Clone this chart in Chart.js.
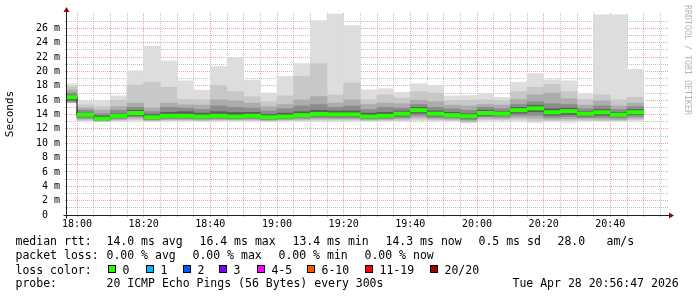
<!DOCTYPE html>
<html>
<head>
<meta charset="utf-8">
<script src="https://cdn.jsdelivr.net/npm/chart.js@4.4.1/dist/chart.umd.min.js"></script>
<style>
  body { margin: 0; background: #fff; }
  #wrap { position: relative; width: 697px; height: 297px; overflow: hidden; }
  canvas { position: absolute; left: 0; top: 0; }
  .lg { position: absolute; font: 11.5px "DejaVu Sans Mono", monospace; color: #000; line-height: 14px; white-space: pre; }
  .box { position: absolute; width: 8px; height: 8px; box-sizing: border-box; border: 1px solid #000; }
</style>
</head>
<body>
<div id="wrap">
  <canvas id="chart" width="697" height="297"></canvas>
</div>
<script>
// 5 minute steps (start time of each step)
const steps = ['17:55', '18:00', '18:05', '18:10', '18:15', '18:20', '18:25', '18:30', '18:35', '18:40',
    '18:45', '18:50', '18:55', '19:00', '19:05', '19:10', '19:15', '19:20', '19:25', '19:30',
    '19:35', '19:40', '19:45', '19:50', '19:55', '20:00', '20:05', '20:10', '20:15', '20:20',
    '20:25', '20:30', '20:35', '20:40', '20:45'];
const timeLabels = ['18:00', '18:20', '18:40', '19:00', '19:20', '19:40', '20:00', '20:20', '20:40'];

// rtt in ms, smoke bands from outside to inside
const maxRtt = [18.3, 15.9, 15.9, 16.6, 20.1, 23.5, 21.5, 18.7, 17.4, 20.7, 21.9, 18.8, 17.0, 19.3, 21.1, 27.1, 28.0, 26.4,
    17.45, 17.6, 17.1, 18.3, 18.05, 16.6, 16.65, 16.9, 16.4, 18.5, 19.7, 18.85, 18.7, 16.85, 27.9, 27.9, 20.3];
const band2Hi = [17.9, 15.35, 15.1, 16.0, 18.1, 18.5, 17.8, 16.1, 16.05, 18.05, 17.2, 16.5, 15.8, 16.6, 19.3, 21.1, 16.75, 18.4,
    16.05, 16.75, 16.3, 17.2, 17.0, 15.95, 16.0, 16.05, 15.95, 17.2, 17.8, 18.2, 17.2, 16.1, 16.75, 16.05, 16.4];
const band3Hi = [17.4, 14.9, 14.6, 15.1, 15.6, 14.9, 15.6, 15.35, 15.3, 16.05, 15.9, 15.6, 15.1, 15.4, 16.05, 16.5, 15.6, 16.05,
    15.4, 15.6, 15.5, 16.0, 15.8, 15.3, 15.2, 15.4, 15.3, 16.1, 16.75, 17.0, 16.2, 15.3, 15.9, 15.2, 15.6];
const band4Hi = [17.0, 14.6, 14.1, 14.6, 15.0, 14.4, 15.0, 14.9, 14.7, 15.2, 15.0, 14.9, 14.5, 14.8, 15.2, 15.4, 15.0, 15.2,
    14.7, 15.0, 14.9, 15.4, 15.0, 14.8, 14.6, 15.0, 14.8, 15.4, 15.8, 15.5, 15.4, 14.8, 15.2, 14.7, 15.1];
const band5Hi = [16.7, 14.2, 13.8, 14.1, 14.6, 14.0, 14.3, 14.4, 14.2, 14.4, 14.3, 14.3, 14.0, 14.2, 14.4, 14.6, 14.5, 14.5,
    14.2, 14.3, 14.5, 15.0, 14.5, 14.3, 14.1, 14.6, 14.4, 15.0, 15.3, 14.8, 14.9, 14.4, 14.7, 14.3, 14.7];
const median = [16.4, 13.95, 13.4, 13.8, 14.2, 13.6, 13.8, 13.8, 13.7, 13.8, 13.7, 13.8, 13.6, 13.7, 13.9, 14.05, 14.0, 14.0,
    13.7, 13.8, 14.1, 14.6, 14.1, 13.9, 13.75, 14.2, 14.1, 14.6, 14.85, 14.3, 14.45, 14.1, 14.3, 13.95, 14.3];
const band5Lo = [16.0, 13.7, 13.3, 13.6, 13.9, 13.4, 13.6, 13.6, 13.5, 13.6, 13.5, 13.6, 13.4, 13.5, 13.7, 13.8, 13.75, 13.75,
    13.5, 13.6, 13.8, 14.2, 13.8, 13.7, 13.5, 13.9, 13.85, 14.2, 14.4, 13.9, 14.0, 13.8, 13.9, 13.7, 14.0];
const band4Lo = [15.8, 13.5, 13.2, 13.45, 13.7, 13.3, 13.45, 13.45, 13.4, 13.45, 13.4, 13.45, 13.3, 13.4, 13.5, 13.6, 13.55, 13.55,
    13.4, 13.45, 13.6, 13.9, 13.6, 13.5, 13.3, 13.7, 13.65, 13.9, 13.9, 13.6, 13.7, 13.6, 13.6, 13.5, 13.75];
const band3Lo = [15.7, 13.35, 13.1, 13.3, 13.5, 13.2, 13.3, 13.3, 13.25, 13.3, 13.3, 13.3, 13.2, 13.3, 13.35, 13.4, 13.4, 13.4,
    13.3, 13.3, 13.4, 13.6, 13.4, 13.35, 13.1, 13.5, 13.45, 13.6, 13.5, 13.35, 13.4, 13.4, 13.35, 13.3, 13.5];
const band2Lo = [15.65, 13.2, 13.05, 13.2, 13.3, 13.1, 13.2, 13.2, 13.15, 13.2, 13.2, 13.2, 13.1, 13.2, 13.2, 13.25, 13.25, 13.25,
    13.15, 13.2, 13.2, 13.35, 13.25, 13.2, 12.95, 13.3, 13.3, 13.35, 13.1, 13.15, 13.15, 13.2, 13.15, 13.15, 13.3];
const minRtt = [15.6, 13.1, 13.0, 13.05, 13.1, 13.0, 13.1, 13.1, 13.0, 13.1, 13.05, 13.05, 13.0, 13.05, 13.05, 13.1, 13.1, 13.1,
    13.05, 13.05, 13.1, 13.15, 13.1, 13.05, 12.85, 13.1, 13.15, 13.1, 12.9, 13.0, 12.9, 13.05, 13.0, 13.0, 13.1];

// Legend texts
const legendRows = [
    [[16, 'median rtt:'], [107, '14.0 ms avg'], [200, '16.4 ms max'], [293, '13.4 ms min'], [386, '14.3 ms now'],
     [479, '0.5 ms sd'], [558, '28.0'], [607, 'am/s']],
    [[16, 'packet loss:'], [107, '0.00 % avg'], [193, '0.00 % max'], [279, '0.00 % min'], [365, '0.00 % now']],
    [[16, 'loss color:']],
    [[16, 'probe:'], [107, '20 ICMP Echo Pings (56 Bytes) every 300s'], [513, 'Tue Apr 28 20:56:47 2026']]
];
const lossLabels = ['0', '1', '2', '3', '4-5', '6-10', '11-19', '20/20'];
const lossColors = ['#26ff00', '#00b8ff', '#0059ff', '#7e00ff', '#ff00ff', '#ff5500', '#ff0000', '#a10000'];
const lossX = [108, 146, 183, 219, 257, 307, 365, 430];

// minutes after 18:00, centre of the step
function stepCentre(s) {
    const [h, m] = s.split(':').map(Number);
    return (h - 18) * 60 + m + 2.5;
}

function band(lo, hi, color) {
    return {
        type: 'bar',
        data: steps.map((s, i) => ({ x: stepCentre(s), y: [lo[i], hi[i]] })),
        backgroundColor: color,
        borderWidth: 0,
        grouped: false,
        barPercentage: 1,
        categoryPercentage: 1,
        clip: 0
    };
}

const majorGrid = 'rgba(225, 70, 70, 0.5)';
const minorGrid = 'rgba(130, 130, 130, 0.5)';

// Axis arrows, watermark
const rrdDecor = {
    id: 'rrdDecor',
    afterDraw(chart) {
        const ctx = chart.ctx;
        const a = chart.chartArea;
        const ax = Math.round(a.left) - 0.5;
        const ay = Math.round(a.bottom) + 0.5;
        ctx.save();
        ctx.strokeStyle = '#1f1f1f';
        ctx.lineWidth = 1;
        ctx.beginPath();
        ctx.moveTo(ax - 3, ay);
        ctx.lineTo(a.right + 2, ay);
        ctx.moveTo(ax, ay + 3);
        ctx.lineTo(ax, a.top - 2);
        ctx.stroke();
        ctx.fillStyle = '#7f1010';
        ctx.beginPath();
        ctx.moveTo(a.right, ay - 3);
        ctx.lineTo(a.right + 5, ay);
        ctx.lineTo(a.right, ay + 3);
        ctx.fill();
        ctx.beginPath();
        ctx.moveTo(ax - 3, a.top - 1);
        ctx.lineTo(ax, a.top - 6);
        ctx.lineTo(ax + 3, a.top - 1);
        ctx.fill();
        ctx.translate(687, 5);
        ctx.rotate(Math.PI / 2);
        ctx.font = '8.3px "DejaVu Sans Mono"';
        ctx.fillStyle = '#b4b4b4';
        ctx.textBaseline = 'middle';
        ctx.fillText('RRDTOOL / TOBI OETIKER', 0, 0);
        ctx.restore();
    }
};

new Chart(document.getElementById('chart'), {
    type: 'bar',
    data: {
        datasets: [
            {
                type: 'bar',
                data: steps.map((s, i) => ({ x: stepCentre(s), y: [median[i] - 0.22, median[i] + 0.25] })),
                backgroundColor: '#26ff00',
                borderWidth: 0,
                grouped: false,
                barPercentage: 1,
                categoryPercentage: 1,
                clip: 0
            },
            {
                type: 'line',
                data: steps.map((s, i) => ({ x: stepCentre(s), y: median[i] })),
                borderColor: '#111111',
                borderWidth: 1,
                stepped: 'middle',
                pointRadius: 0
            },
            band(band5Lo, band5Hi, '#5e5e5e'),
            band(band4Lo, band4Hi, '#8c8c8c'),
            band(band3Lo, band3Hi, '#acacac'),
            band(band2Lo, band2Hi, '#c8c8c8'),
            band(minRtt, maxRtt, '#dddddd')
        ]
    },
    options: {
        responsive: false,
        animation: false,
        layout: { padding: { left: 0, top: 13, right: 28, bottom: 0 } },
        plugins: { legend: { display: false }, tooltip: { enabled: false } },
        scales: {
            x: {
                type: 'linear',
                offset: false,
                min: -3,
                max: 177.6,
                z: 1,
                afterFit: s => { s.height = 82; },
                afterBuildTicks: s => {
                    const t = [];
                    for (let v = 0; v <= 175; v += 5) t.push({ value: v });
                    s.ticks = t;
                },
                grid: {
                    offset: false,
                    color: c => (c.tick && c.tick.value % 20 === 0) ? majorGrid : minorGrid,
                    tickLength: 2,
                    lineWidth: 1
                },
                border: { display: false, dash: [1, 1] },
                ticks: {
                    autoSkip: false,
                    maxRotation: 0,
                    padding: 1,
                    color: '#000',
                    font: { family: 'DejaVu Sans Mono', size: 10 },
                    callback: v => v % 20 === 0 ? timeLabels[v / 20] : ''
                }
            },
            y: {
                min: 0,
                max: 28.15,
                z: 1,
                afterFit: s => { s.width = 67; },
                afterBuildTicks: s => {
                    const t = [];
                    for (let v = 0; v <= 27; v++) t.push({ value: v });
                    s.ticks = t;
                },
                grid: {
                    color: c => (c.tick && c.tick.value % 2 === 0) ? majorGrid : minorGrid,
                    tickLength: 2,
                    lineWidth: 1
                },
                border: { display: false, dash: [1, 1] },
                title: {
                    display: true,
                    text: 'Seconds',
                    color: '#000',
                    padding: { top: 4, bottom: 0 },
                    font: { family: 'DejaVu Sans Mono', size: 11, weight: 'normal' }
                },
                ticks: {
                    autoSkip: false,
                    padding: 5,
                    color: '#000',
                    font: { family: 'DejaVu Sans Mono', size: 10 },
                    callback: v => v % 2 !== 0 ? '' : (v === 0 ? '0  ' : v + ' m')
                }
            }
        }
    },
    plugins: [rrdDecor]
});

// Legend below the graph
const wrap = document.getElementById('wrap');
const rowTop = [234.3, 248.3, 262.7, 276];
legendRows.forEach((row, r) => {
    row.forEach(([x, text]) => {
        const el = document.createElement('div');
        el.className = 'lg';
        el.style.left = (x - 0.5) + 'px';
        el.style.top = rowTop[r] + 'px';
        el.textContent = text;
        wrap.appendChild(el);
    });
});
lossLabels.forEach((label, i) => {
    const box = document.createElement('div');
    box.className = 'box';
    box.style.left = lossX[i] + 'px';
    box.style.top = '265px';
    box.style.background = lossColors[i];
    wrap.appendChild(box);
    const el = document.createElement('div');
    el.className = 'lg';
    el.style.left = (lossX[i] + 14.5) + 'px';
    el.style.top = rowTop[2] + 'px';
    el.textContent = label;
    wrap.appendChild(el);
});
</script>
</body>
</html>
